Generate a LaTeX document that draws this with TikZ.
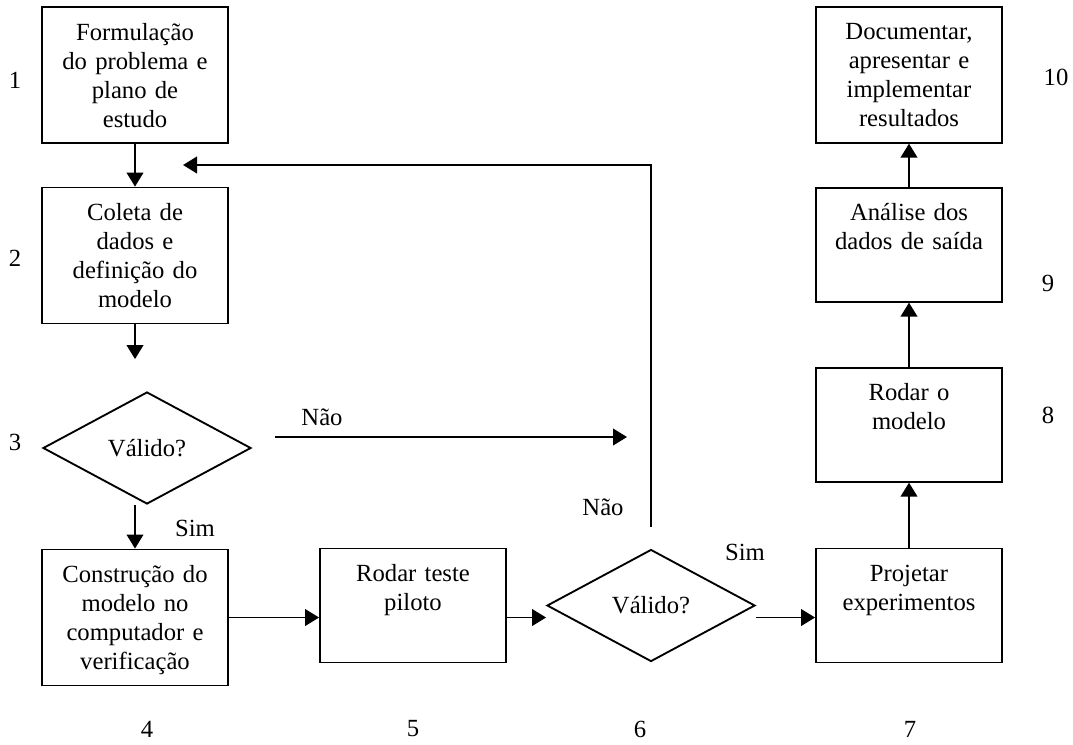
\documentclass[tikz,border=0pt]{standalone}
\usepackage{fontspec}
\setmainfont{Liberation Serif}
\usetikzlibrary{shapes.geometric,arrows.meta,positioning}
\newcommand{\stepfont}{\fontsize{18.5pt}{21.75pt}\selectfont}

\begin{document}
\begin{tikzpicture}[x=0.75pt,y=-0.75pt,
  every node/.style={font=\stepfont},
  box/.style={draw,line width=1.4pt,inner sep=0pt,align=center,text width=139.5pt,text height=24.75pt,
    execute at begin node={\baselineskip=21.75pt\relax}},
  tallbox/.style={box,text depth=77.25pt},
  shortbox/.style={box,text depth=60.75pt},
  decide/.style={draw,diamond,line width=1.4pt,inner sep=0pt,minimum width=156pt,minimum height=84pt},
  arr/.style={line width=1.4pt,-{Triangle[length=10.5pt,width=12.5pt]}}]
  \useasboundingbox (0,0) rectangle (1073,744);

  \node[tallbox] (form) at (135,75) {Formulação\\do problema e\\plano de\\estudo};
  \node[tallbox, below of=form, node distance=135.4pt] (coleta) {Coleta de\\dados e\\definição do\\modelo};
  \node[decide] (valido) at (147,448) {Válido?};
  \node[tallbox] (constr) at (135,617.5) {Construção do\\modelo no\\computador e\\verificação};
  \node[shortbox] (teste) at (413,605.5) {Rodar teste\\piloto};
  \node[decide, right of=teste, node distance=178.5pt] (valido2) {Válido?};
  \node[shortbox, right of=valido2, node distance=193.5pt] (projetar) {Projetar\\experimentos};
  \node[shortbox, above of=projetar, node distance=135.6pt] (rodar) {Rodar o\\modelo};
  \node[shortbox, above of=rodar, node distance=135pt] (analise) {Análise dos\\dados de saída};
  \node[tallbox, above of=analise, node distance=127.5pt] (doc) {Documentar,\\apresentar e\\implementar\\resultados};

  % step numbers
  \node (n1) at (15,80) {1};
  \node (n2) at (15,258) {2};
  \node (n3) at (15,442) {3};
  \node (n4) at (147,729) {4};
  \node (n5) at (413,729) {5};
  \node (n6) at (640,729) {6};
  \node (n7) at (910,729) {7};
  \node (n8) at (1048,415) {8};
  \node (n9) at (1048,283) {9};
  \node (n10) at (1056,77) {10};

  \node (nao) at (322,417) {Não};
  \node (nao2) at (603,507) {Não};
  \node (sim) at (195,528) {Sim};
  \node (sim2) at (745,552) {Sim};

  \coordinate (naoend) at (627,437);
  \coordinate (volta) at (183,165);

  \draw[arr] (form) -- (coleta);
  \draw[arr, shorten >=24pt] (coleta) -- (coleta |- valido.north);
  \draw[arr] (valido.south -| constr) -- (constr);
  \draw[arr] ([xshift=17.25pt,yshift=8.25pt]valido.east) -- (naoend);
  \draw[arr] (constr) -- (constr -| teste.west);
  \draw[arr] (teste.east |- constr) -- (constr -| valido2.west);
  \draw[arr] (valido2.east |- constr) -- (constr -| projetar.west);
  \draw[arr, shorten <=16.5pt] (valido2.north) |- (volta);
  \draw[arr] (projetar) -- (rodar);
  \draw[arr] (rodar) -- (analise);
  \draw[arr] (analise) -- (doc);
\end{tikzpicture}
\end{document}
